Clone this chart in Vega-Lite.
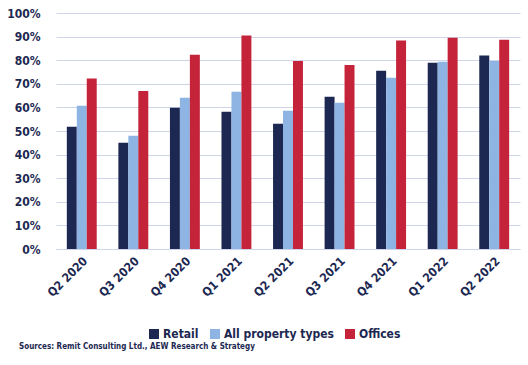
{
  "$schema": "https://vega.github.io/schema/vega-lite/v6.json",
  "width": 464,
  "height": 236,
  "autosize": {"type": "none"},
  "padding": {"left": 56, "top": 13, "right": 8, "bottom": 116},
  "background": "white",
  "config": {
    "font": "DejaVu Sans Condensed",
    "view": {"stroke": null},
    "axis": {"labelColor": "#1c2851", "labelFontWeight": "bold", "labelFont": "DejaVu Sans Condensed"}
  },
  "title": {
    "text": "Sources: Remit Consulting Ltd., AEW Research & Strategy",
    "orient": "bottom",
    "anchor": "start",
    "frame": "group",
    "dx": -37,
    "offset": 3,
    "fontSize": 8,
    "fontWeight": "bold",
    "color": "#1c2851",
    "font": "DejaVu Sans Condensed"
  },
  "data": {
    "values": [
      {"q": "Q2 2020", "type": "Retail", "v": 0.518},
      {"q": "Q2 2020", "type": "All property types", "v": 0.607},
      {"q": "Q2 2020", "type": "Offices", "v": 0.722},
      {"q": "Q3 2020", "type": "Retail", "v": 0.45},
      {"q": "Q3 2020", "type": "All property types", "v": 0.48},
      {"q": "Q3 2020", "type": "Offices", "v": 0.67},
      {"q": "Q4 2020", "type": "Retail", "v": 0.599},
      {"q": "Q4 2020", "type": "All property types", "v": 0.641},
      {"q": "Q4 2020", "type": "Offices", "v": 0.823},
      {"q": "Q1 2021", "type": "Retail", "v": 0.582},
      {"q": "Q1 2021", "type": "All property types", "v": 0.666},
      {"q": "Q1 2021", "type": "Offices", "v": 0.905},
      {"q": "Q2 2021", "type": "Retail", "v": 0.531},
      {"q": "Q2 2021", "type": "All property types", "v": 0.586},
      {"q": "Q2 2021", "type": "Offices", "v": 0.797},
      {"q": "Q3 2021", "type": "Retail", "v": 0.645},
      {"q": "Q3 2021", "type": "All property types", "v": 0.62},
      {"q": "Q3 2021", "type": "Offices", "v": 0.78},
      {"q": "Q4 2021", "type": "Retail", "v": 0.755},
      {"q": "Q4 2021", "type": "All property types", "v": 0.726},
      {"q": "Q4 2021", "type": "Offices", "v": 0.883},
      {"q": "Q1 2022", "type": "Retail", "v": 0.789},
      {"q": "Q1 2022", "type": "All property types", "v": 0.793},
      {"q": "Q1 2022", "type": "Offices", "v": 0.895},
      {"q": "Q2 2022", "type": "Retail", "v": 0.82},
      {"q": "Q2 2022", "type": "All property types", "v": 0.797},
      {"q": "Q2 2022", "type": "Offices", "v": 0.887}
    ]
  },
  "mark": {"type": "bar"},
  "encoding": {
    "x": {
      "field": "q",
      "type": "nominal",
      "sort": null,
      "scale": {"paddingInner": 0.42, "paddingOuter": 0.21},
      "axis": {
        "title": null,
        "labelAngle": -45,
        "labelFontSize": 12,
        "ticks": false,
        "domainColor": "#d0d5ea",
        "labelPadding": 6
      }
    },
    "xOffset": {
      "field": "type",
      "type": "nominal",
      "sort": ["Retail", "All property types", "Offices"],
      "scale": {"paddingInner": 0, "paddingOuter": 0}
    },
    "y": {
      "field": "v",
      "type": "quantitative",
      "scale": {"domain": [0, 1]},
      "axis": {
        "title": null,
        "format": ".0%",
        "values": [0, 0.1, 0.2, 0.3, 0.4, 0.5, 0.6, 0.7, 0.8, 0.9, 1],
        "labelOverlap": false,
        "domain": false,
        "ticks": false,
        "gridColor": "#d0d5ea",
        "gridWidth": 1.2,
        "labelFontSize": 12,
        "labelPadding": 16
      }
    },
    "color": {
      "field": "type",
      "type": "nominal",
      "sort": ["Retail", "All property types", "Offices"],
      "scale": {
        "domain": ["Retail", "All property types", "Offices"],
        "range": ["#1c2851", "#8db4e2", "#c4233a"]
      },
      "legend": {
        "title": null,
        "orient": "none",
        "direction": "horizontal",
        "legendX": 92,
        "legendY": 315,
        "symbolType": "square",
        "symbolSize": 100,
        "symbolStrokeWidth": 0,
        "labelFontSize": 12,
        "labelFontWeight": "bold",
        "labelColor": "#1c2851",
        "labelFont": "DejaVu Sans Condensed",
        "columnPadding": 10,
        "labelOffset": 3
      }
    }
  }
}
